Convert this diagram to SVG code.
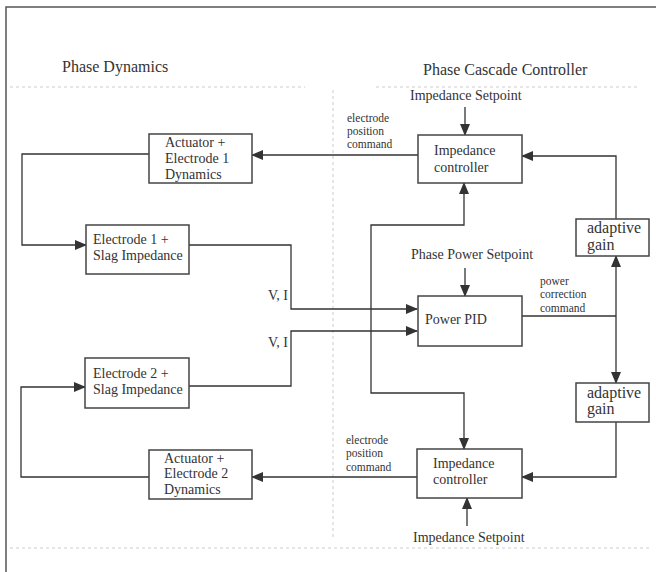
<svg xmlns="http://www.w3.org/2000/svg" width="656" height="572" viewBox="0 0 656 572">
<style>
text{font-family:"Liberation Serif","Times New Roman",serif;fill:#333}
.box{fill:#fff;stroke:#444;stroke-width:1.5}
.c{fill:none;stroke:#333;stroke-width:1.3}
.t{font-size:14px}
.s{font-size:11.5px}
.g{font-size:16px}
.h{font-size:16px}
.d{fill:none;stroke:#ccc;stroke-width:1;stroke-dasharray:3 3}
</style>
<defs>
<marker id="a" markerUnits="userSpaceOnUse" markerWidth="12" markerHeight="10" refX="11" refY="5" orient="auto">
<path d="M0,0 L12,5 L0,10 z" fill="#333"/>
</marker>
</defs>
<rect x="0" y="0" width="656" height="572" fill="#fff"/>
<g id="frame">
<path d="M6,572 V7 H656" fill="none" stroke="#555" stroke-width="1.5"/>
<path class="d" d="M10,87 H305 M376,87 H640 M333,90 V540 M10,548 H650"/>
</g>
<text class="h" x="62" y="72">Phase Dynamics</text>
<text class="h" x="423" y="75">Phase Cascade Controller</text>
<g id="connectors">
<path class="c" d="M418,155 H252" marker-end="url(#a)"/>
<path class="c" d="M149,154 H22 V245 H86" marker-end="url(#a)"/>
<path class="c" d="M189,245 H291 V309 H417" marker-end="url(#a)"/>
<path class="c" d="M189,386 H291 V331 H417" marker-end="url(#a)"/>
<path class="c" d="M371,309 V225 H464 V183" marker-end="url(#a)"/>
<path class="c" d="M371,309 V393 H464 V449" marker-end="url(#a)"/>
<path class="c" d="M465,107 V135" marker-end="url(#a)"/>
<path class="c" d="M465,268 V296" marker-end="url(#a)"/>
<path class="c" d="M522,316 H616"/>
<path class="c" d="M616,316 V256" marker-end="url(#a)"/>
<path class="c" d="M616,316 V383" marker-end="url(#a)"/>
<path class="c" d="M616,219 V156 H522" marker-end="url(#a)"/>
<path class="c" d="M616,422 V477 H522" marker-end="url(#a)"/>
<path class="c" d="M417,477 H252" marker-end="url(#a)"/>
<path class="c" d="M149,477 H21 V387 H85" marker-end="url(#a)"/>
<path class="c" d="M467,526 V498" marker-end="url(#a)"/>
</g>
<g id="labels">
<text class="t" x="410" y="100">Impedance Setpoint</text>
<text class="s" x="347" y="122">electrode</text>
<text class="s" x="347" y="135">position</text>
<text class="s" x="347" y="148">command</text>
<text class="t" x="411" y="259">Phase Power Setpoint</text>
<text class="s" x="540" y="285">power</text>
<text class="s" x="540" y="298">correction</text>
<text class="s" x="540" y="312">command</text>
<text class="t" x="268" y="300">V, I</text>
<text class="t" x="268" y="347">V, I</text>
<text class="s" x="346" y="444">electrode</text>
<text class="s" x="346" y="457">position</text>
<text class="s" x="346" y="471">command</text>
<text class="t" x="413" y="542">Impedance Setpoint</text>
</g>
<g id="actuator1">
<rect class="box" x="149" y="134" width="103" height="49"/>
<text class="t" x="165" y="147">Actuator +</text>
<text class="t" x="165" y="163">Electrode 1</text>
<text class="t" x="165" y="179">Dynamics</text>
</g>
<g id="electrode1">
<rect class="box" x="86" y="225" width="103" height="49"/>
<text class="t" x="93" y="244">Electrode 1 +</text>
<text class="t" x="93" y="260">Slag Impedance</text>
</g>
<g id="electrode2">
<rect class="box" x="85" y="358" width="104" height="50"/>
<text class="t" x="93" y="378">Electrode 2 +</text>
<text class="t" x="93" y="394">Slag Impedance</text>
</g>
<g id="actuator2">
<rect class="box" x="149" y="450" width="103" height="49"/>
<text class="t" x="164" y="463">Actuator +</text>
<text class="t" x="164" y="478">Electrode 2</text>
<text class="t" x="164" y="494">Dynamics</text>
</g>
<g id="impctrl1">
<rect class="box" x="418" y="135" width="104" height="48"/>
<text class="t" x="434" y="155">Impedance</text>
<text class="t" x="434" y="172">controller</text>
</g>
<g id="powerpid">
<rect class="box" x="418" y="296" width="104" height="50"/>
<text class="t" x="425" y="324">Power PID</text>
</g>
<g id="impctrl2">
<rect class="box" x="417" y="449" width="105" height="49"/>
<text class="t" x="433" y="468">Impedance</text>
<text class="t" x="433" y="484">controller</text>
</g>
<g id="gain1">
<rect class="box" x="576" y="219" width="73" height="37"/>
<text class="g" x="587" y="233">adaptive</text>
<text class="g" x="587" y="250">gain</text>
</g>
<g id="gain2">
<rect class="box" x="576" y="383" width="73" height="39"/>
<text class="g" x="587" y="398">adaptive</text>
<text class="g" x="587" y="414">gain</text>
</g>
</svg>
